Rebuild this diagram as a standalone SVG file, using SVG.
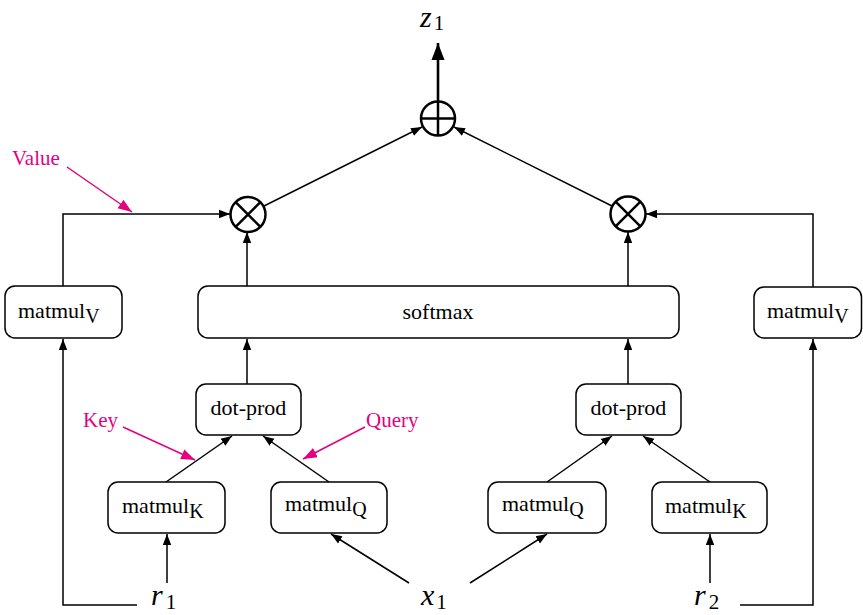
<svg xmlns="http://www.w3.org/2000/svg" width="863" height="615" viewBox="0 0 863 615">
  <style>
    .box { fill: #ffffff; stroke: #000000; stroke-width: 1.5; }
    .lbl { font-family: "Liberation Serif", "Times New Roman", serif; font-size: 22px; fill: #000000; }
    .sub { font-size: 20px; }
    .math { font-family: "Liberation Serif", "Times New Roman", serif; font-style: italic; font-size: 30px; fill: #000000; }
    .msub { font-style: normal; font-size: 21px; }
    .note { font-family: "Liberation Serif", "Times New Roman", serif; font-size: 21px; fill: #e6007e; }
    .edge { fill: none; stroke: #000000; stroke-width: 1.5; }
    .thick { fill: none; stroke: #000000; stroke-width: 2.6; }
    .pink { fill: none; stroke: #e6007e; stroke-width: 1.5; }
    .op { fill: #ffffff; stroke: #000000; stroke-width: 2.5; }
  </style>
  <defs>
    <marker id="arr" markerUnits="userSpaceOnUse" markerWidth="12" markerHeight="10" refX="11" refY="5" orient="auto">
      <path d="M0,0.8 L11,5 L0,9.2 Z" fill="#000000"/>
    </marker>
    <marker id="arrBig" markerUnits="userSpaceOnUse" markerWidth="18" markerHeight="14" refX="17" refY="7" orient="auto">
      <path d="M0,0.5 L17,7 L0,13.5 Z" fill="#000000"/>
    </marker>
    <marker id="arrPink" markerUnits="userSpaceOnUse" markerWidth="15" markerHeight="12" refX="14" refY="6" orient="auto">
      <path d="M0,0.8 L14,6 L0,11.2 Z" fill="#e6007e"/>
    </marker>
  </defs>

  <!-- connectors -->
  <g id="connectors">
    <!-- inputs to projections -->
    <line class="edge" x1="167" y1="583" x2="167" y2="534" marker-end="url(#arr)"/>
    <line class="edge" x1="409" y1="583" x2="331" y2="534" marker-end="url(#arr)"/>
    <line class="edge" x1="470" y1="583" x2="547" y2="534" marker-end="url(#arr)"/>
    <line class="edge" x1="710" y1="583" x2="710" y2="534" marker-end="url(#arr)"/>
    <!-- values -->
    <polyline class="edge" points="137,605 63,605 63,339" marker-end="url(#arr)"/>
    <polyline class="edge" points="740,605 813,605 813,339" marker-end="url(#arr)"/>
    <polyline class="edge" points="63,286 63,214 230,214" marker-end="url(#arr)"/>
    <polyline class="edge" points="813,287 813,214 646,214" marker-end="url(#arr)"/>
    <!-- projections to dot products -->
    <line class="edge" x1="166" y1="482" x2="232" y2="436" marker-end="url(#arr)"/>
    <line class="edge" x1="329" y1="482" x2="263" y2="436" marker-end="url(#arr)"/>
    <line class="edge" x1="547" y1="482" x2="612" y2="436" marker-end="url(#arr)"/>
    <line class="edge" x1="710" y1="482" x2="643" y2="436" marker-end="url(#arr)"/>
    <!-- dot products to softmax -->
    <line class="edge" x1="247" y1="384" x2="247" y2="339" marker-end="url(#arr)"/>
    <line class="edge" x1="628" y1="384" x2="628" y2="339" marker-end="url(#arr)"/>
    <!-- softmax to products -->
    <line class="edge" x1="247" y1="286" x2="247" y2="232" marker-end="url(#arr)"/>
    <line class="edge" x1="628" y1="286" x2="628" y2="232" marker-end="url(#arr)"/>
    <!-- products to sum -->
    <line class="edge" x1="264" y1="206" x2="422" y2="127" marker-end="url(#arr)"/>
    <line class="edge" x1="612" y1="206" x2="454" y2="127" marker-end="url(#arr)"/>
    <!-- sum to output -->
    <line class="thick" x1="438" y1="101" x2="438" y2="43" marker-end="url(#arrBig)"/>
  </g>

  <!-- annotations -->
  <g id="annotations">
    <text class="note" x="12" y="165">Value</text>
    <line class="pink" x1="67" y1="167" x2="132" y2="212" marker-end="url(#arrPink)"/>
    <text class="note" x="83" y="427">Key</text>
    <line class="pink" x1="123" y1="427" x2="195" y2="460" marker-end="url(#arrPink)"/>
    <text class="note" x="366" y="427">Query</text>
    <line class="pink" x1="365" y1="427" x2="303" y2="459" marker-end="url(#arrPink)"/>
  </g>

  <!-- nodes -->
  <g id="z1"><text class="math" x="420" y="27">z<tspan class="msub" dx="2" dy="3">1</tspan></text></g>

  <g id="sum">
    <circle class="op" cx="438" cy="118.5" r="17"/>
    <line class="op" x1="421" y1="118.5" x2="455" y2="118.5"/>
    <line class="op" x1="438" y1="101.5" x2="438" y2="135.5"/>
  </g>

  <g id="prodL">
    <circle class="op" cx="248" cy="214.5" r="17.5"/>
    <line class="op" x1="235.6" y1="202.1" x2="260.4" y2="226.9"/>
    <line class="op" x1="260.4" y1="202.1" x2="235.6" y2="226.9"/>
  </g>

  <g id="prodR">
    <circle class="op" cx="628" cy="214" r="17.5"/>
    <line class="op" x1="615.6" y1="201.6" x2="640.4" y2="226.4"/>
    <line class="op" x1="640.4" y1="201.6" x2="615.6" y2="226.4"/>
  </g>

  <g id="matmulV1">
    <rect class="box" x="5" y="286" width="117" height="52" rx="10"/>
    <text class="lbl" x="18" y="318">matmul<tspan class="sub" dy="5">V</tspan></text>
  </g>

  <g id="softmax">
    <rect class="box" x="198" y="286" width="481" height="52" rx="10"/>
    <text class="lbl" x="438" y="319" text-anchor="middle">softmax</text>
  </g>

  <g id="matmulV2">
    <rect class="box" x="754" y="287" width="107.5" height="51" rx="10"/>
    <text class="lbl" x="767" y="318">matmul<tspan class="sub" dy="5">V</tspan></text>
  </g>

  <g id="dotprodL">
    <rect class="box" x="196" y="384" width="105" height="51" rx="10"/>
    <text class="lbl" x="248.5" y="415" text-anchor="middle">dot-prod</text>
  </g>

  <g id="dotprodR">
    <rect class="box" x="576" y="384" width="105" height="51" rx="10"/>
    <text class="lbl" x="628.5" y="415" text-anchor="middle">dot-prod</text>
  </g>

  <g id="matmulK1">
    <rect class="box" x="108" y="482" width="117" height="51" rx="10"/>
    <text class="lbl" x="122" y="513">matmul<tspan class="sub" dy="5">K</tspan></text>
  </g>

  <g id="matmulQ1">
    <rect class="box" x="271" y="482" width="116" height="51" rx="10"/>
    <text class="lbl" x="285" y="511">matmul<tspan class="sub" dy="5">Q</tspan></text>
  </g>

  <g id="matmulQ2">
    <rect class="box" x="488" y="482" width="118" height="51" rx="10"/>
    <text class="lbl" x="502" y="511">matmul<tspan class="sub" dy="5">Q</tspan></text>
  </g>

  <g id="matmulK2">
    <rect class="box" x="652" y="482" width="115" height="51" rx="10"/>
    <text class="lbl" x="665" y="513">matmul<tspan class="sub" dy="5">K</tspan></text>
  </g>

  <g id="r1"><text class="math" x="151" y="605">r<tspan class="msub" dx="3" dy="4">1</tspan></text></g>
  <g id="x1"><text class="math" x="421" y="605">x<tspan class="msub" dx="2" dy="4">1</tspan></text></g>
  <g id="r2"><text class="math" x="694" y="605">r<tspan class="msub" dx="3" dy="4">2</tspan></text></g>
</svg>
